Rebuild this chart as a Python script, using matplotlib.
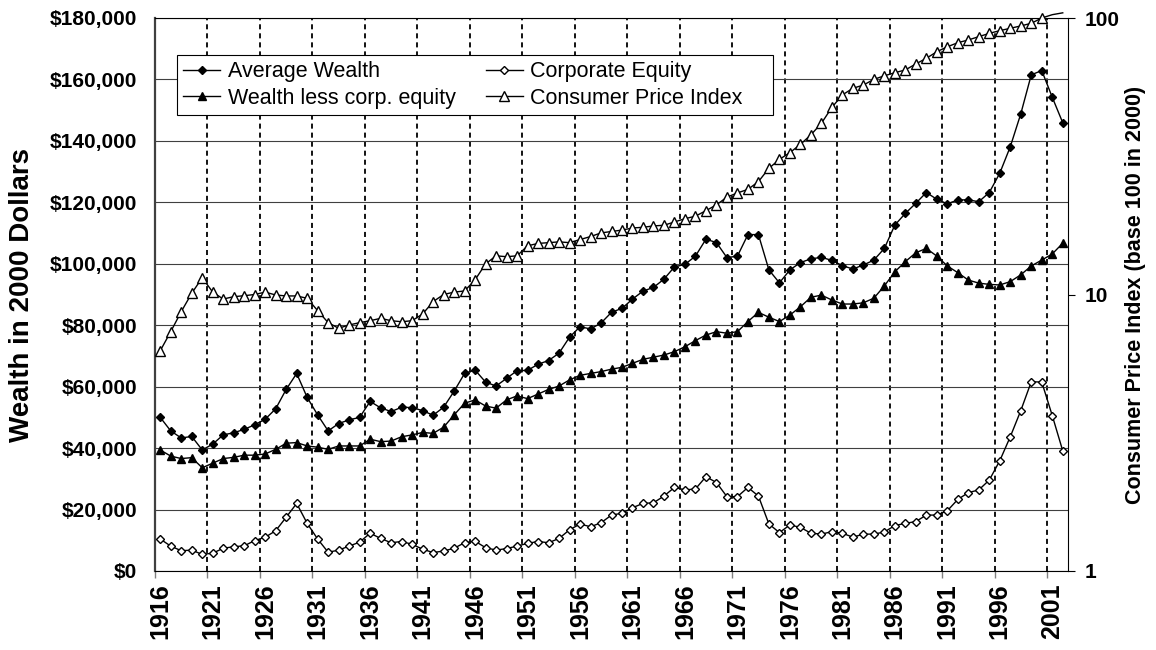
import numpy as np
import matplotlib
matplotlib.use("Agg")
import matplotlib.pyplot as plt
from matplotlib.ticker import NullLocator

plt.rcParams["font.family"] = ["Liberation Sans", "DejaVu Sans"]

# -- Data -------------------------------------------------------------------
years = np.arange(1916, 2003)

avg_wealth = [
    50000, 45600, 43300, 43800, 39400, 41300, 44300, 45000, 46100, 47600,  # 1916-25
    49400, 52800, 59100, 64300, 56500, 50800, 45600, 48000, 49200, 50000,  # 1926-35
    55200, 53100, 51900, 53300, 53200, 52200, 50700, 53300, 58500, 64300,  # 1936-45
    65400, 61500, 60200, 62700, 65200, 65300, 67300, 68500, 70900, 76100,  # 1946-55
    79500, 78800, 80700, 84200, 85500, 88500, 91100, 92300, 95000, 99000,  # 1956-65
    99800, 102500, 108000, 106900, 102000, 102500, 109500, 109500, 98000, 93800,  # 1966-75
    98000, 100400, 101600, 102100, 101100, 99400, 98300, 99600, 101200, 105000,  # 1976-85
    112600, 116400, 119700, 123200, 121000, 119500, 120800, 120800, 120200, 123200,  # 1986-95
    129500, 138100, 148800, 161500, 162900, 154200, 145900,  # 1996-2002
]

wealth_less_equity = [
    39400, 37400, 36600, 36900, 33600, 35100, 36600, 37000, 37700, 37700,
    38100, 39600, 41600, 41800, 40700, 40300, 39600, 40700, 40700, 40700,
    42900, 42100, 42300, 43700, 44300, 45100, 44800, 46800, 50800, 54600,
    55700, 53700, 53000, 55700, 57000, 56100, 57600, 59100, 60200, 62200,
    63700, 64300, 64900, 65700, 66300, 67600, 68900, 69600, 70300, 71400,
    73000, 75000, 76800, 77900, 77400, 77900, 81200, 84200, 82600, 81200,
    83300, 86000, 89100, 89800, 88200, 86900, 86900, 87300, 88800, 92800,
    97400, 100700, 103600, 105000, 102500, 99300, 97100, 94700, 93700, 93300,
    93100, 94200, 96400, 99300, 101200, 103200, 106700,
]

corp_equity = [
    10400, 8100, 6600, 6800, 5400, 5800, 7400, 7900, 8200, 9900,
    11000, 13100, 17500, 22000, 15500, 10400, 6100, 6800, 8100, 9400,
    12300, 10600, 9200, 9600, 8700, 7100, 6000, 6500, 7400, 9200,
    9700, 7600, 6800, 7300, 8100, 9000, 9600, 9200, 10600, 13400,
    15300, 14400, 15700, 18200, 18800, 20600, 22000, 22200, 24400, 27200,
    26400, 26700, 30700, 28800, 24200, 24200, 27200, 24400, 15300, 12500,
    15000, 14200, 12300, 12000, 12800, 12300, 11000, 12000, 12000, 12700,
    14800, 15500, 16100, 18200, 18200, 19600, 23300, 25500, 26400, 29600,
    35900, 43700, 52200, 61600, 61500, 50600, 39100,
]

cpi = [
    6.26, 7.34, 8.67, 10.1, 11.5, 10.2, 9.63, 9.82, 9.90, 10.0,
    10.2, 9.96, 9.88, 9.88, 9.69, 8.74, 7.91, 7.55, 7.76, 7.91,
    8.04, 8.20, 8.04, 7.97, 8.04, 8.50, 9.42, 10.0, 10.2, 10.3,
    11.3, 12.9, 13.8, 13.7, 13.8, 15.0, 15.3, 15.4, 15.5, 15.4,
    15.8, 16.2, 16.7, 16.9, 17.1, 17.4, 17.5, 17.7, 17.8, 18.3,
    18.8, 19.2, 20.1, 21.1, 22.5, 23.3, 24.0, 25.6, 28.6, 30.8,
    32.6, 34.9, 37.8, 41.6, 47.5, 52.7, 55.7, 57.2, 60.0, 61.8,
    63.4, 64.9, 68.2, 71.5, 75.5, 78.7, 81.4, 83.3, 85.6, 88.0,
    90.0, 91.8, 93.6, 95.7, 100.0, 102.8, 104.4,
]

wealth_ticks = np.arange(0, 180001, 20000)
wealth_labels = ["${:,.0f}".format(v) for v in wealth_ticks]
label_years = np.arange(1916, 2002, 5)

# -- Figure -----------------------------------------------------------------
W, H = 1156, 650
fig = plt.figure(figsize=(W / 100, H / 100), dpi=100)
ax = fig.add_axes([155 / W, 79 / H, 913 / W, 553 / H])

# category gridlines sit between years
bounds = label_years - 0.5
for b in bounds[1:]:
    ax.axvline(b, color="black", lw=1.3, dashes=(2.8, 2.2), zorder=0.5)
ax.yaxis.grid(True, color="#404040", lw=0.8)
ax.set_axisbelow(True)

l_avg, = ax.plot(years, avg_wealth, color="black", lw=1, marker="D", ms=3.8,
                 mfc="black", mec="black", label="Average Wealth", zorder=3)
l_wle, = ax.plot(years, wealth_less_equity, color="black", lw=1, marker="^", ms=6,
                 mfc="black", mec="black", label="Wealth less corp. equity", zorder=3)
l_eq, = ax.plot(years, corp_equity, color="black", lw=1, marker="D", ms=4.2,
                mfc="white", mec="black", mew=1, label="Corporate Equity", zorder=3)

ax.set_xlim(1915.5, 2002.5)
ax.set_ylim(0, 180000)
ax.set_yticks(wealth_ticks)
ax.set_yticklabels(wealth_labels, fontsize=15, fontweight="bold")
ax.tick_params(axis="y", length=0, pad=13)
ax.set_xticks(label_years)
ax.set_xticklabels([str(y) for y in label_years], rotation=90, fontsize=18,
                   fontweight="bold")
ax.set_xticks(bounds, minor=True)
ax.tick_params(axis="x", which="major", length=0, pad=9)
ax.tick_params(axis="x", which="minor", length=5, color="#808080", width=1)

ax.spines["left"].set_color("#404040")
ax.spines["left"].set_linewidth(1.6)
ax.spines["bottom"].set_linewidth(0.8)
ax.spines["top"].set_linewidth(0.8)
ax.spines["right"].set_visible(False)

# -- CPI on log secondary axis ----------------------------------------------
ax2 = ax.twinx()
shown = [i for i, v in enumerate(cpi) if v <= 100]
l_cpi, = ax2.plot(years, cpi, color="black", lw=1, marker="^", ms=6.5,
                  mfc="white", mec="black", mew=1, markevery=shown,
                  label="Consumer Price Index", clip_on=False, zorder=3)
ax2.set_yscale("log")
ax2.set_ylim(1, 100)
ax2.set_yticks([1, 10, 100])
ax2.set_yticklabels(["1", "10", "100"], fontsize=15, fontweight="bold")
ax2.yaxis.set_minor_locator(NullLocator())
ax2.tick_params(axis="y", length=5, pad=7)
for s in ["left", "top", "bottom"]:
    ax2.spines[s].set_visible(False)
ax2.spines["right"].set_linewidth(0.8)

# -- Labels and legend ------------------------------------------------------
fig.text(22 / W, 1 - 295 / H, "Wealth in 2000 Dollars", rotation=90,
         ha="center", va="center", fontsize=20, fontweight="bold")
fig.text(1136 / W, 1 - 295 / H, "Consumer Price Index (base 100 in 2000)",
         rotation=90, ha="center", va="center", fontsize=15.5, fontweight="bold")

# trailing spaces widen the second column like the original box
l_cpi.set_label("Consumer Price Index    ")
leg = ax2.legend(handles=[l_avg, l_wle, l_eq, l_cpi], ncol=2,
                 loc="upper left", bbox_to_anchor=(177 / W, 1 - 55 / H),
                 bbox_transform=fig.transFigure, borderaxespad=0,
                 fontsize=15.5, frameon=True, fancybox=False, framealpha=1,
                 edgecolor="black", handlelength=1.72, handletextpad=0.33,
                 columnspacing=1.4, labelspacing=0.25, borderpad=0.3)
leg.get_frame().set_linewidth(0.8)
leg.set_zorder(10)

plt.savefig("out.png", dpi=100)
plt.close()
